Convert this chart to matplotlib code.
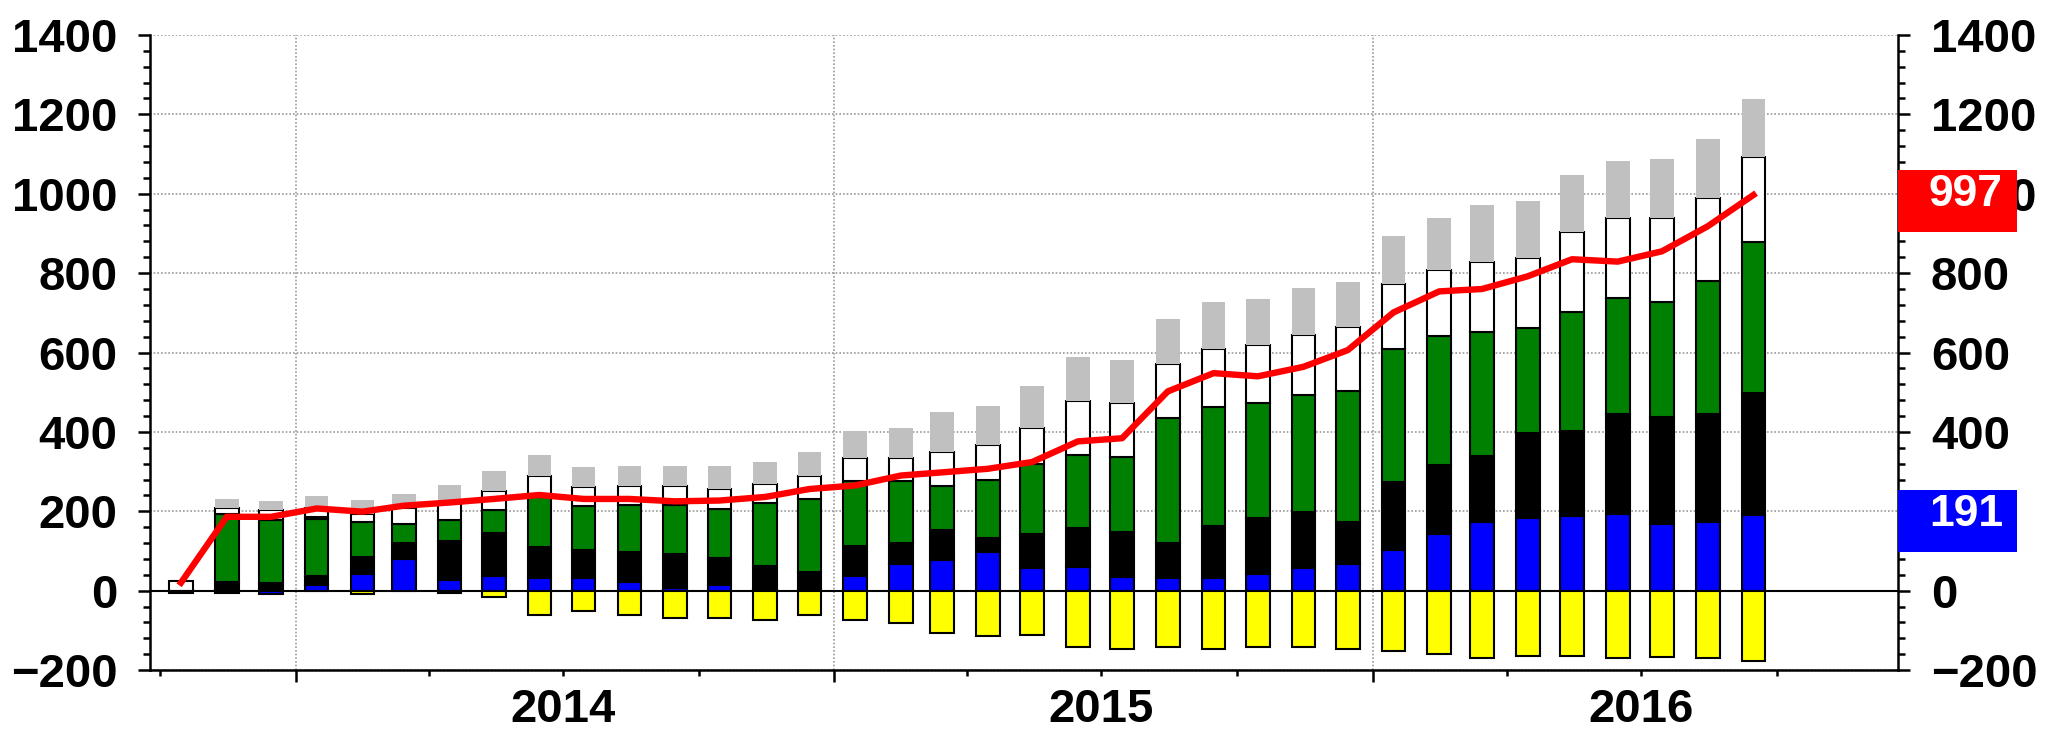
import matplotlib
matplotlib.use('Agg')
import matplotlib.pyplot as plt
import matplotlib.dates as mdates
import matplotlib.transforms as mtransforms
from matplotlib.patches import Rectangle
from matplotlib.ticker import MultipleLocator
import numpy as np
import pandas as pd

# monthly bars, Oct 2013 .. Sep 2016
months = pd.date_range('2013-10-01', periods=36, freq='MS')

blue = [0, 0, 0, 14, 43, 79, 26, 37, 32, 32, 21, 7, 13, 4, 5, 36, 67, 78,
        97, 57, 60, 35, 32, 32, 41, 56, 66, 103, 143, 172, 182, 189, 194, 169, 174, 191]
black = [0, 22, 18, 23, 41, 41, 98, 107, 77, 71, 76, 86, 70, 58, 42, 77, 54, 76,
         36, 86, 98, 112, 89, 130, 142, 142, 106, 171, 173, 167, 215, 213, 252, 268, 272, 308]
green = [0, 170, 159, 143, 90, 48, 53, 59, 128, 109, 119, 123, 122, 160, 184, 164, 154, 109,
         147, 175, 184, 189, 313, 300, 290, 295, 332, 336, 326, 313, 264, 301, 291, 290, 333, 380]
yellow_pos = [0, 0, 0, 5, 0, 0, 0, 0, 0, 0, 0, 0, 0, 0, 0, 0, 0, 0,
              0, 0, 0, 0, 0, 0, 0, 0, 0, 0, 0, 0, 0, 0, 0, 0, 0, 0]
white = [25, 17, 26, 24, 20, 39, 45, 47, 53, 48, 47, 47, 52, 47, 57, 56, 58, 86,
         86, 91, 136, 137, 136, 148, 147, 152, 160, 162, 166, 177, 177, 200, 202, 212, 211, 213]
gray = [0, 22, 22, 30, 35, 36, 43, 51, 51, 51, 51, 51, 57, 55, 61, 68, 77, 102,
        100, 106, 111, 107, 115, 116, 116, 117, 113, 122, 131, 142, 143, 143, 143, 148, 148, 147]
yellow_neg = [0, 0, 0, 0, -9, 0, 0, -16, -61, -52, -61, -68, -68, -74, -62, -74, -82, -108,
              -114, -113, -143, -147, -143, -147, -143, -143, -147, -152, -159, -171, -164, -164, -171, -167, -171, -178]
blue_neg = [0, 0, -9, 0, 0, 0, 0, 0, 0, 0, 0, 0, 0, 0, 0, 0, 0, 0,
            0, 0, 0, 0, 0, 0, 0, 0, 0, 0, 0, 0, 0, 0, 0, 0, 0, 0]
black_neg = [-5, -5, 0, 0, 0, 0, -5, 0, 0, 0, 0, 0, 0, 0, 0, 0, 0, 0,
             0, 0, 0, 0, 0, 0, 0, 0, 0, 0, 0, 0, 0, 0, 0, 0, 0, 0]
line = [20, 186, 186, 207, 199, 214, 222, 231, 241, 231, 231, 225, 227, 236, 256, 265, 290, 298,
        307, 324, 376, 384, 502, 548, 540, 564, 606, 701, 754, 760, 792, 835, 829, 855, 918, 997]

years = [2014, 2015, 2016]

plt.rcParams['font.family'] = ['Liberation Sans', 'DejaVu Sans']
plt.rcParams['font.weight'] = 'bold'

fig = plt.figure(figsize=(20.47, 7.32), dpi=100)
ax = fig.add_axes([150 / 2047, 62 / 732, 1748 / 2047, 635 / 732])

x = mdates.date2num(months + pd.Timedelta(days=14))
width = 16


def draw_stack(vals, bottom, color, edge):
    vals = np.array(vals, dtype=float)
    m = vals != 0
    ax.bar(x[m], vals[m], width, bottom=bottom[m], color=color,
           edgecolor='black' if edge else 'none', linewidth=1.5, zorder=3)


bottom = np.zeros(len(x))
for vals, color, edge in [(blue, '#0000ff', True), (black, '#000000', True),
                          (green, '#008000', True), (yellow_pos, '#ffff00', True),
                          (white, '#ffffff', True), (gray, '#c0c0c0', False)]:
    draw_stack(vals, bottom, color, edge)
    bottom = bottom + np.array(vals)

zero = np.zeros(len(x))
draw_stack(yellow_neg, zero, '#ffff00', True)
draw_stack(blue_neg, zero, '#0000ff', True)
draw_stack(black_neg, zero, '#000000', True)

ax.plot(x, line, color='#ff0000', lw=4.6, zorder=4)
ax.axhline(0, color='black', lw=1.5, zorder=2.5)

ax.set_xlim(mdates.date2num(pd.Timestamp('2013-09-24')), mdates.date2num(pd.Timestamp('2016-12-22')))
ax.set_ylim(-200, 1400)

ax.xaxis.set_major_locator(mdates.YearLocator())
ax.xaxis.set_minor_locator(mdates.MonthLocator(bymonth=[1, 4, 7, 10]))
ax.yaxis.set_major_locator(MultipleLocator(200))
ax.yaxis.set_minor_locator(MultipleLocator(40))

ax.grid(True, which='major', linestyle=(0, (1, 1.2)), color='#999999', lw=1.2, zorder=1)
ax.set_axisbelow(True)

for s in ['left', 'right', 'bottom']:
    ax.spines[s].set_linewidth(1.8)
ax.spines['top'].set_visible(False)

ax.tick_params(axis='x', which='major', length=8.6, width=1.8, direction='out', labelbottom=False)
ax.tick_params(axis='x', which='minor', length=4.3, width=1.8, direction='out')
ax.tick_params(axis='y', which='both', left=True, right=True, labelleft=True, labelright=True,
               width=1.8, direction='out')
ax.tick_params(axis='y', which='major', length=8.6, labelsize=34, pad=15)
ax.tick_params(axis='y', which='minor', length=5)

xt = mtransforms.blended_transform_factory(ax.transData, ax.transAxes)
for yr in years:
    ax.annotate(str(yr), xy=(mdates.date2num(pd.Timestamp(f'{yr}-07-01')), 0), xycoords=xt,
                xytext=(0, -13), textcoords='offset points', ha='center', va='top',
                fontsize=34, fontweight='bold')

# value boxes on the right axis
yt = mtransforms.blended_transform_factory(ax.transAxes, ax.transData)
for val, color in [(line[-1], '#ff0000'), (blue[-1], '#0000ff')]:
    ax.add_patch(Rectangle((1.0, val - 93), 0.068, 156, transform=yt, facecolor=color,
                           edgecolor='none', clip_on=False, zorder=6))
    ax.text(1.060, val, str(val), transform=yt, ha='right', va='center', color='white',
            fontsize=32, fontweight='bold', zorder=7, clip_on=False)

fig.savefig('out.png', dpi=100)
